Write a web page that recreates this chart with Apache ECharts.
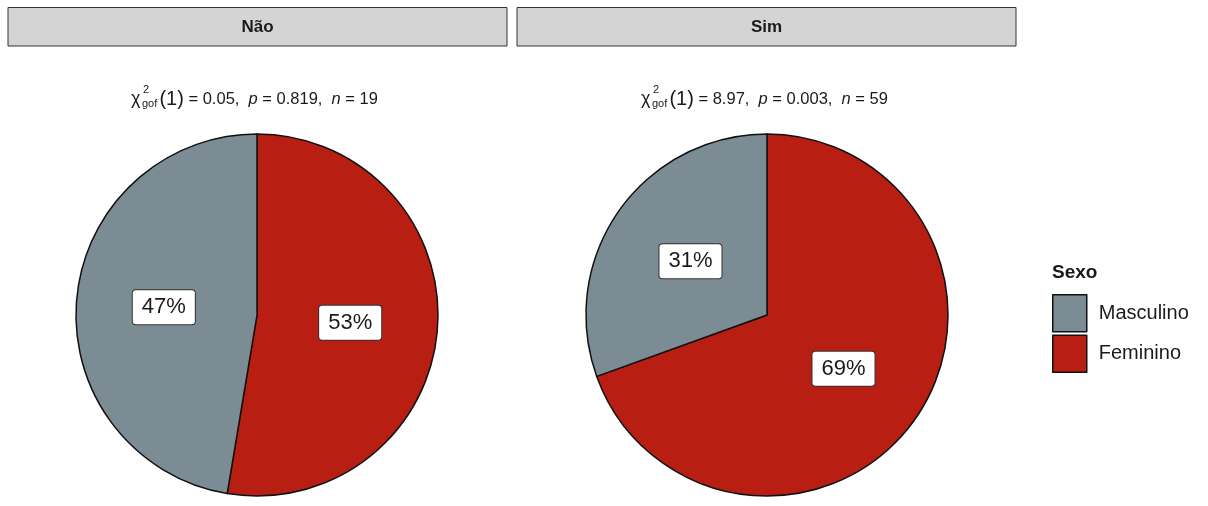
<!DOCTYPE html>
<html><head><meta charset="utf-8">
<script src="https://cdn.jsdelivr.net/npm/echarts@6/dist/echarts.min.js"></script>
<style>html,body{margin:0;padding:0;background:#fff}#c{width:1208px;height:506px}</style>
</head><body><div id="c"></div>
<script>
const facets = ['Não', 'Sim'];
const categories = ['Feminino', 'Masculino'];
const legendOrder = ['Masculino', 'Feminino'];
const countsNao = [10, 9];
const countsSim = [41, 18];
const statsNao = { chi: '0.05', p: '0.819', n: '19' };
const statsSim = { chi: '8.97', p: '0.003', n: '59' };
const colors = { Feminino: '#B81E12', Masculino: '#7B8C94' };

const FONT = '"Liberation Sans", Arial, sans-serif';
const centersX = [257, 767];
const centerY = 315;
const R = 181;

function pieSeries(counts, cx) {
  return {
    type: 'pie',
    center: [cx, centerY],
    radius: [0, R],
    startAngle: 90,
    clockwise: true,
    avoidLabelOverlap: false,
    silent: true,
    animation: false,
    itemStyle: { borderColor: '#111', borderWidth: 1.5 },
    label: {
      show: true, position: 'inside',
      formatter: p => Math.round(p.percent) + '%',
      fontFamily: FONT, fontSize: 22, color: '#1a1a1a',
      backgroundColor: '#fff', borderColor: '#333', borderWidth: 1, borderRadius: 3,
      padding: [7, 9, 5, 9]
    },
    labelLine: { show: false },
    data: categories.map((c, i) => ({ name: c, value: counts[i], itemStyle: { color: colors[c] } }))
  };
}

function strip(x0, x1, label) {
  return [
    { type: 'rect', shape: { x: x0, y: 7.5, width: x1 - x0, height: 38.5 },
      style: { fill: '#D4D4D4', stroke: '#333', lineWidth: 1 } },
    { type: 'text', x: (x0 + x1) / 2, y: 27,
      style: { text: label, font: 'bold 17px ' + FONT, fill: '#1a1a1a', align: 'center', verticalAlign: 'middle' } }
  ];
}

function subtitle(cx, s) {
  const left = cx - 126;
  return [
    { type: 'text', x: left, y: 99,
      style: {
        text: '{chi|χ}{gap|}{par|(1)}{t| = ' + s.chi + ',  }{i|p}{t| = ' + s.p + ',  }{i|n}{t| = ' + s.n + '}',
        align: 'left', verticalAlign: 'middle',
        rich: {
          chi: { font: '18px ' + FONT, fill: '#1a1a1a' },
          gap: { width: 19 },
          par: { font: '20px ' + FONT, fill: '#1a1a1a' },
          t: { font: '16.5px ' + FONT, fill: '#1a1a1a' },
          i: { font: 'italic 16.5px ' + FONT, fill: '#1a1a1a' }
        }
      } },
    { type: 'text', x: left + 12, y: 90,
      style: { text: '2', font: '11px ' + FONT, fill: '#1a1a1a', align: 'left', verticalAlign: 'middle' } },
    { type: 'text', x: left + 11, y: 104,
      style: { text: 'gof', font: '11px ' + FONT, fill: '#1a1a1a', align: 'left', verticalAlign: 'middle' } }
  ];
}

const chart = echarts.init(document.getElementById('c'), null, { renderer: 'canvas' });
chart.setOption({
  animation: false,
  backgroundColor: '#fff',
  legend: {
    data: legendOrder,
    orient: 'vertical', left: 1047, top: 289,
    itemWidth: 34, itemHeight: 37, itemGap: 2,
    icon: 'rect', selectedMode: false,
    itemStyle: { borderColor: '#111', borderWidth: 1.5 },
    textStyle: { fontFamily: FONT, fontSize: 20, color: '#1a1a1a', padding: [0, 0, 0, 7] }
  },
  graphic: [
    ...strip(8, 507, facets[0]),
    ...strip(517, 1016, facets[1]),
    ...subtitle(centersX[0], statsNao),
    ...subtitle(centersX[1], statsSim),
    { type: 'text', x: 1052, y: 273,
      style: { text: 'Sexo', font: 'bold 19px ' + FONT, fill: '#1a1a1a', align: 'left', verticalAlign: 'middle' } }
  ],
  series: [pieSeries(countsNao, centersX[0]), pieSeries(countsSim, centersX[1])]
});
</script></body></html>
